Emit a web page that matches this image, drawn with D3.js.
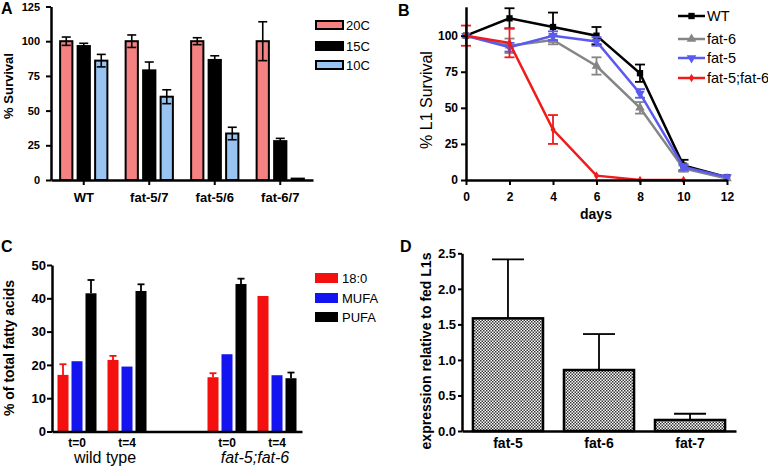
<!DOCTYPE html>
<html><head><meta charset="utf-8">
<script src="https://cdn.jsdelivr.net/npm/d3@7"></script>
<style>
body{margin:0;background:#fff;}
svg{display:block;font-family:"Liberation Sans",Arial,sans-serif;}
</style></head><body>
<svg id="fig" width="768" height="469"></svg>
<script>
// ---------- Panel A data ----------
const A_groups = ["WT", "fat-5/7", "fat-5/6", "fat-6/7"];
const A_series = ["20C", "15C", "10C"];
const A_20C = [100, 100, 100, 100];
const A_20C_err = [3, 4.5, 2.5, 14];
const A_15C = [96.5, 79, 86.5, 28];
const A_15C_err = [2, 6, 3, 2];
const A_10C = [86, 60, 33.5, 1];
const A_10C_err = [4.5, 5, 4.5, 0];
const A_yTicks = [0, 25, 50, 75, 100, 125];

// ---------- Panel B data ----------
const B_days = [0, 2, 4, 6, 8, 10, 12];
const B_WT = [100, 112, 106, 100, 74, 10, 2];
const B_WT_err = [0, 7, 10, 6, 6, 4, 0];
const B_fat6 = [100, 93, 97, 79, 50, 8, 1];
const B_fat6_err = [0, 5, 3, 6, 4, 2, 0];
const B_fat5 = [100, 92, 100, 96, 60, 9, 2];
const B_fat5_err = [0, 3, 3, 3, 3, 2, 0];
const B_fat56_days = [0, 2, 4, 6, 8, 10];
const B_fat56 = [100, 95, 35, 3, 0, 0];
const B_fat56_err = [7, 10, 10, 0, 0, 0];
const B_yTicks = [0, 25, 50, 75, 100];
const B_xTicks = [0, 2, 4, 6, 8, 10, 12];

// ---------- Panel C data ----------
const C_keys = ["wt0", "wt4", "gap", "f0", "f4"];
const C_tickLabels = ["t=0", "t=4", "", "t=0", "t=4"];
const C_series = ["18:0", "MUFA", "PUFA"];
const C_stearic = [17, 21.5, null, 16.3, 40.7];
const C_stearic_err = [3.2, 1.2, null, 1.2, 0];
const C_MUFA = [21.1, 19.5, null, 23.2, 16.9];
const C_MUFA_err = [0, 0, null, 0, 0];
const C_PUFA = [41.5, 42.2, null, 44.3, 16];
const C_PUFA_err = [4, 2, null, 1.6, 1.7];
const C_yTicks = [0, 10, 20, 30, 40, 50];

// ---------- Panel D data ----------
const D_genes = ["fat-5", "fat-6", "fat-7"];
const D_values = [1.585, 0.858, 0.155];
const D_err = [0.83, 0.506, 0.088];
const D_yTicks = [0, 0.5, 1.0, 1.5, 2.0, 2.5];

const svg = d3.select("#fig");
svg.append("rect").attr("width", 768).attr("height", 469).attr("fill", "#fff");

// pattern for D
const defs = svg.append("defs");
const pat = defs.append("pattern").attr("id", "checker").attr("patternUnits", "userSpaceOnUse")
  .attr("width", 3).attr("height", 3);
pat.append("rect").attr("width", 3).attr("height", 3).attr("fill", "#fff");
pat.append("rect").attr("width", 1.5).attr("height", 1.5).attr("fill", "#333");
pat.append("rect").attr("x", 1.5).attr("y", 1.5).attr("width", 1.5).attr("height", 1.5).attr("fill", "#333");

function styleAxis(g, fontSize) {
  g.select(".domain").attr("stroke", "#000").attr("stroke-width", 2.5);
  g.selectAll(".tick line").attr("stroke", "#000").attr("stroke-width", 2);
  g.selectAll(".tick text").attr("fill", "#000").attr("font-size", fontSize)
    .attr("font-weight", "bold").attr("font-family", "Liberation Sans, Arial, sans-serif");
}

function panelLetter(t, x, y) {
  svg.append("text").attr("x", x).attr("y", y).text(t)
    .attr("font-size", 16).attr("font-weight", "bold");
}

// ================= Panel A =================
{
  const y = d3.scaleLinear().domain([0, 125]).range([180, 6.5]);
  const x = d3.scaleBand().domain(A_groups).range([51, 313]).padding(0);
  const x1 = d3.scaleBand().domain(A_series).range([-26.25, 26.25]).paddingInner(0.3).paddingOuter(0.15);
  const colors = { "20C": "#f58282", "15C": "#000000", "10C": "#99c4f2" };
  const vals = { "20C": A_20C, "15C": A_15C, "10C": A_10C };
  const errs = { "20C": A_20C_err, "15C": A_15C_err, "10C": A_10C_err };
  const g = svg.append("g");
  A_series.forEach(s => {
    A_groups.forEach((grp, i) => {
      const cx = x(grp) + x.bandwidth() / 2 + x1(s);
      const v = vals[s][i];
      g.append("rect").attr("x", cx).attr("y", y(v)).attr("width", x1.bandwidth())
        .attr("height", y(0) - y(v)).attr("fill", colors[s]).attr("stroke", "#000").attr("stroke-width", 2);
      const e = errs[s][i];
      if (e > 0) {
        const mx = cx + x1.bandwidth() / 2;
        g.append("line").attr("x1", mx).attr("x2", mx).attr("y1", y(v - e)).attr("y2", y(v + e))
          .attr("stroke", "#000").attr("stroke-width", 1.6);
        [v - e, v + e].forEach(t => g.append("line").attr("x1", mx - 4.5).attr("x2", mx + 4.5)
          .attr("y1", y(t)).attr("y2", y(t)).attr("stroke", "#000").attr("stroke-width", 1.6));
      }
    });
  });
  const ya = svg.append("g").attr("transform", "translate(51,0)")
    .call(d3.axisLeft(y).tickValues(A_yTicks).tickSize(5).tickSizeOuter(0).tickPadding(6));
  styleAxis(ya, 11);
  const xa = svg.append("g").attr("transform", "translate(0,180)")
    .call(d3.axisBottom(x).tickSize(5).tickSizeOuter(0).tickPadding(8));
  styleAxis(xa, 13);
  svg.append("text").attr("transform", "translate(13,86) rotate(-90)").attr("text-anchor", "middle")
    .attr("font-size", 13).attr("font-weight", "bold").text("% Survival");
  // legend
  A_series.forEach((s, i) => {
    const ly = [21, 42, 61][i];
    svg.append("rect").attr("x", 316).attr("y", ly).attr("width", 27).attr("height", 8)
      .attr("fill", colors[s]).attr("stroke", "#000").attr("stroke-width", 2);
    svg.append("text").attr("x", 346).attr("y", ly + 9).attr("font-size", 13).text(s);
  });
  panelLetter("A", 1, 14);
}

// ================= Panel B =================
{
  const x = d3.scaleLinear().domain([0, 12]).range([466, 727]);
  const y = d3.scaleLinear().domain([0, 120]).range([180, 6.8]);
  const series = [
    { name: "WT", days: B_days, v: B_WT, e: B_WT_err, color: "#000000", sym: d3.symbolSquare, size: 40, rot: 0 },
    { name: "fat-6", days: B_days, v: B_fat6, e: B_fat6_err, color: "#858585", sym: d3.symbolTriangle, size: 40, rot: 0 },
    { name: "fat-5", days: B_days, v: B_fat5, e: B_fat5_err, color: "#5a5af0", sym: d3.symbolTriangle, size: 40, rot: 180 },
    { name: "fat-5;fat-6", days: B_fat56_days, v: B_fat56, e: B_fat56_err, color: "#ee1c1c", sym: d3.symbolDiamond, size: 22, rot: 0 }
  ];
  const line = d3.line().x(d => x(d[0])).y(d => y(d[1]));
  const g = svg.append("g");
  series.forEach(s => {
    const pts = s.days.map((d, i) => [d, s.v[i], s.e[i]]);
    g.append("path").attr("d", line(pts)).attr("fill", "none").attr("stroke", s.color).attr("stroke-width", 2.5);
    pts.forEach(p => {
      if (p[2] > 0) {
        g.append("line").attr("x1", x(p[0])).attr("x2", x(p[0])).attr("y1", y(p[1] - p[2])).attr("y2", y(p[1] + p[2]))
          .attr("stroke", s.color).attr("stroke-width", 1.8);
        [p[1] - p[2], p[1] + p[2]].forEach(t => g.append("line").attr("x1", x(p[0]) - 5).attr("x2", x(p[0]) + 5)
          .attr("y1", y(t)).attr("y2", y(t)).attr("stroke", s.color).attr("stroke-width", 1.8));
      }
      g.append("path").attr("d", d3.symbol().type(s.sym).size(s.size)())
        .attr("transform", `translate(${x(p[0])},${y(p[1])}) rotate(${s.rot})`).attr("fill", s.color);
    });
  });
  const ya = svg.append("g").attr("transform", "translate(466,0)")
    .call(d3.axisLeft(y).tickValues(B_yTicks).tickSize(5).tickSizeOuter(0).tickPadding(3));
  styleAxis(ya, 12);
  const xa = svg.append("g").attr("transform", "translate(0,180)")
    .call(d3.axisBottom(x).tickValues(B_xTicks).tickSize(5).tickSizeOuter(0).tickPadding(7));
  styleAxis(xa, 12);
  svg.append("text").attr("transform", "translate(432,100) rotate(-90)").attr("text-anchor", "middle")
    .attr("font-size", 16).text("% L1 Survival");
  svg.append("text").attr("x", 596).attr("y", 219).attr("text-anchor", "middle")
    .attr("font-size", 14).attr("font-weight", "bold").text("days");
  series.forEach((s, i) => {
    const ly = [16, 39, 58, 78][i];
    svg.append("line").attr("x1", 678).attr("x2", 705).attr("y1", ly).attr("y2", ly)
      .attr("stroke", s.color).attr("stroke-width", 2.5);
    svg.append("path").attr("d", d3.symbol().type(s.sym).size(s.size)())
      .attr("transform", `translate(691.5,${ly}) rotate(${s.rot})`).attr("fill", s.color);
    svg.append("text").attr("x", 707).attr("y", ly + 5).attr("font-size", 14.5).text(s.name);
  });
  panelLetter("B", 398, 15.5);
}

// ================= Panel C =================
{
  const y = d3.scaleLinear().domain([0, 50]).range([431.5, 265]);
  const x = d3.scaleBand().domain(C_keys).range([52, 302]).padding(0);
  const x1 = d3.scaleBand().domain(C_series).range([-21, 21]).paddingInner(0.214).paddingOuter(0.107);
  const colors = { "18:0": "#f51010", "MUFA": "#1414f0", "PUFA": "#000000" };
  const vals = { "18:0": C_stearic, "MUFA": C_MUFA, "PUFA": C_PUFA };
  const errs = { "18:0": C_stearic_err, "MUFA": C_MUFA_err, "PUFA": C_PUFA_err };
  const g = svg.append("g");
  C_series.forEach(s => {
    C_keys.forEach((k, i) => {
      const v = vals[s][i];
      if (v == null) return;
      const bx = x(k) + x.bandwidth() / 2 + x1(s);
      const mx = bx + x1.bandwidth() / 2;
      const e = errs[s][i];
      if (e > 0) {
        g.append("line").attr("x1", mx).attr("x2", mx).attr("y1", y(v)).attr("y2", y(v + e))
          .attr("stroke", colors[s]).attr("stroke-width", 1.8);
        g.append("line").attr("x1", mx - 3.5).attr("x2", mx + 3.5).attr("y1", y(v + e)).attr("y2", y(v + e))
          .attr("stroke", colors[s]).attr("stroke-width", 1.8);
      }
      g.append("rect").attr("x", bx).attr("y", y(v)).attr("width", x1.bandwidth())
        .attr("height", y(0) - y(v)).attr("fill", colors[s]);
    });
  });
  const ya = svg.append("g").attr("transform", "translate(52,0)")
    .call(d3.axisLeft(y).tickValues(C_yTicks).tickSize(5).tickSizeOuter(0).tickPadding(1));
  styleAxis(ya, 13);
  const xa = svg.append("g").attr("transform", "translate(0,431.5)")
    .call(d3.axisBottom(x).tickSize(0).tickSizeOuter(0).tickPadding(7).tickFormat((d, i) => C_tickLabels[i]));
  styleAxis(xa, 12);
  svg.append("text").attr("transform", "translate(14,348) rotate(-90)").attr("text-anchor", "middle")
    .attr("font-size", 14).attr("font-weight", "bold").text("% of total fatty acids");
  svg.append("text").attr("x", 105).attr("y", 463).attr("text-anchor", "middle")
    .attr("font-size", 16).text("wild type");
  svg.append("text").attr("x", 255).attr("y", 463).attr("text-anchor", "middle")
    .attr("font-size", 16).attr("font-style", "italic").text("fat-5;fat-6");
  C_series.forEach((s, i) => {
    const ly = [273, 293, 312][i];
    svg.append("rect").attr("x", 315).attr("y", ly).attr("width", 23).attr("height", 10).attr("fill", colors[s]);
    svg.append("text").attr("x", 342).attr("y", ly + 10).attr("font-size", 13).text(s);
  });
  panelLetter("C", 1, 252);
}

// ================= Panel D =================
{
  const y = d3.scaleLinear().domain([0, 2.5]).range([431, 253.3]);
  const x = d3.scaleBand().domain(D_genes).range([462, 736]).paddingInner(0.23).paddingOuter(0.12);
  const g = svg.append("g");
  D_genes.forEach((k, i) => {
    const v = D_values[i], e = D_err[i];
    const mx = x(k) + x.bandwidth() / 2;
    g.append("line").attr("x1", mx).attr("x2", mx).attr("y1", y(v)).attr("y2", y(v + e))
      .attr("stroke", "#000").attr("stroke-width", 1.8);
    g.append("line").attr("x1", mx - 16).attr("x2", mx + 16).attr("y1", y(v + e)).attr("y2", y(v + e))
      .attr("stroke", "#000").attr("stroke-width", 1.8);
    g.append("rect").attr("x", x(k)).attr("y", y(v)).attr("width", x.bandwidth())
      .attr("height", y(0) - y(v)).attr("fill", "url(#checker)").attr("stroke", "#000").attr("stroke-width", 2.5);
  });
  const ya = svg.append("g").attr("transform", "translate(462,0)")
    .call(d3.axisLeft(y).tickValues(D_yTicks).tickSize(4).tickSizeOuter(0).tickPadding(2).tickFormat(d3.format(".1f")));
  styleAxis(ya, 13);
  const xa = svg.append("g").attr("transform", "translate(0,431)")
    .call(d3.axisBottom(x).tickSize(0).tickSizeOuter(0).tickPadding(7));
  styleAxis(xa, 14);
  svg.append("text").attr("transform", "translate(431,351) rotate(-90)").attr("text-anchor", "middle")
    .attr("font-size", 14).attr("font-weight", "bold").text("expression relative to fed L1s");
  panelLetter("D", 400, 252);
}
</script></body></html>
